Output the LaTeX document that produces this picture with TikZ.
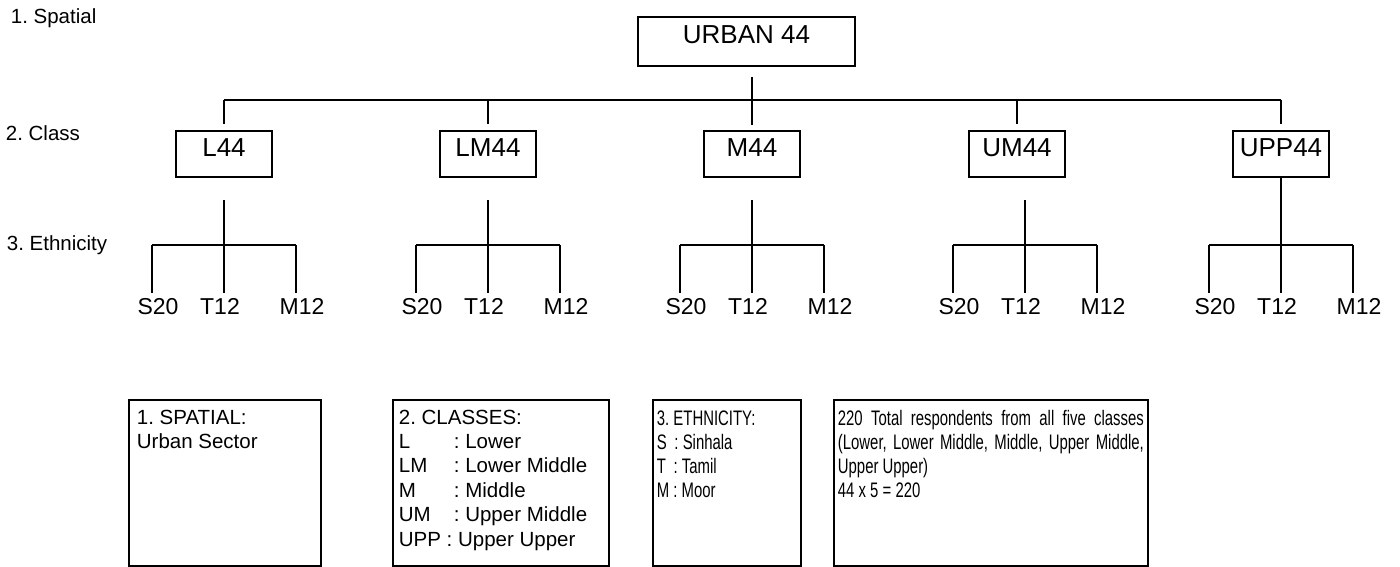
\documentclass[tikz,border=0pt]{standalone}
\usepackage{fontspec}
\setmainfont{Liberation Sans}
\newfontfamily\narrowfont[FakeStretch=0.71]{Liberation Sans}
\usetikzlibrary{calc}
\frenchspacing
\begin{document}
\frenchspacing
\begin{tikzpicture}[x=1pt,y=-1pt,line width=1.8pt,
  topbox/.style={draw,inner sep=0pt,font=\fontsize{26}{30}\selectfont,text height=27pt,text depth=22pt,minimum width=217pt,anchor=base},
  classbox/.style={draw,inner sep=0pt,font=\fontsize{26}{30}\selectfont,text height=26pt,text depth=20pt,minimum width=96pt,anchor=base},
  leaf/.style={inner sep=0pt,font=\fontsize{23}{27}\selectfont,anchor=base},
  levellabel/.style={inner sep=0pt,font=\fontsize{20.5}{24}\selectfont,anchor=base west},
  legendbox/.style={draw,inner sep=0pt,minimum height=166pt,anchor=north west},
  legendtext/.style={inner sep=0pt,anchor=base west,font=\fontsize{20.5}{24.4}\selectfont},
  narrowtext/.style={inner sep=0pt,anchor=base west,font=\narrowfont\fontsize{21}{24}\selectfont}]
\useasboundingbox (0,0) rectangle (1400,567);

% level labels
\node[levellabel] (lab1) at (10,24) {1. Spatial};
\node[levellabel] (lab2) at (5,140) {2. Class};
\node[levellabel] (lab3) at (6,250) {3. Ethnicity};

% top
\node[topbox] (urban) at (746.5,44) {URBAN 44};
\coordinate (utop) at (752,77);
\coordinate (ubot) at (752,125);
\draw (utop) -- (ubot);
\coordinate (busL) at (224,100);
\coordinate (busR) at (1281,100);
\draw (busL) -- (busR);

% classes
\foreach \n/\x/\e in {L/224/224, LM/488/488, M/752/752, UM/1017/1025, UPP/1281/1281} {
  \node[classbox] (\n) at (\x,157) {\n44};
  \coordinate (bus\n) at (\x,100);
  \draw (bus\n) -- ($(\n.north)+(0,-6)$);
  \coordinate (st\n) at (\e,200);
  \coordinate (j\n) at (\e,245);
  \coordinate (jl\n) at (\e-72,245);
  \coordinate (jr\n) at (\e+72,245);
  \draw (jl\n) -- (jr\n);
  \coordinate (dl\n) at (\e-72,293);
  \coordinate (dm\n) at (\e,293);
  \coordinate (dr\n) at (\e+72,293);
  \draw (jl\n) -- (dl\n);
  \draw (j\n) -- (dm\n);
  \draw (jr\n) -- (dr\n);
  \node[leaf] (s\n) at (\e-66,314) {S20};
  \node[leaf] (t\n) at (\e-4,314) {T12};
  \node[leaf] (m\n) at (\e+78,314) {M12};
}
\foreach \n in {L,LM,M,UM} { \draw (st\n) -- (j\n); }
\draw (UPP.south) -- (jUPP);

% legend boxes
\node[legendbox,minimum width=192pt] (box1) at (128,399) {};
\node[legendbox,minimum width=216pt] (box2) at (392,399) {};
\node[legendbox,minimum width=148pt] (box3) at (652,399) {};
\node[legendbox,minimum width=314pt] (box4) at (833,399) {};

\node[legendtext] (t1) at (136,424) {\parbox[t]{180pt}{\frenchspacing 1. SPATIAL:\\Urban Sector}};
\node[legendtext] (t2) at (398,424) {\parbox[t]{205pt}{\frenchspacing 2. CLASSES:\\
\makebox[55pt][l]{L}: Lower\\
\makebox[55pt][l]{LM}: Lower Middle\\
\makebox[55pt][l]{M}: Middle\\
\makebox[55pt][l]{UM}: Upper Middle\\
UPP : Upper Upper}};
\node[narrowtext] (t3) at (656,425) {\parbox[t]{140pt}{\frenchspacing 3. ETHNICITY:\\
S \,: Sinhala\\
T \,: Tamil\\
M : Moor}};
\node[narrowtext] (t4) at (837,425) {\parbox[t]{306pt}{\frenchspacing\makebox[306pt][s]{220 Total respondents from all five classes}\\
\makebox[306pt][s]{(Lower, Lower Middle, Middle, Upper Middle,}\\
Upper Upper)\\
44 x 5 = 220}};
\end{tikzpicture}
\end{document}
